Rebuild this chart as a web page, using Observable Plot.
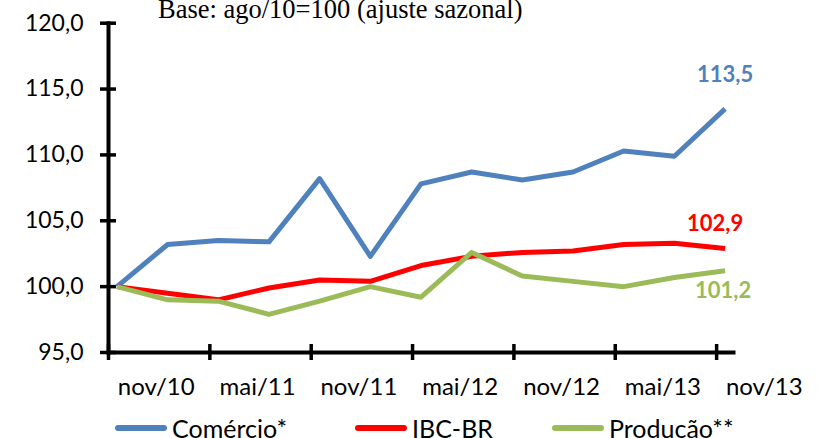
<!DOCTYPE html>
<html>
<head>
<meta charset="utf-8">
<script src="https://cdn.jsdelivr.net/npm/d3@7"></script>
<script src="https://cdn.jsdelivr.net/npm/@observablehq/plot@0.6"></script>
<style>
  html, body { margin: 0; padding: 0; background: #fff; }
  #wrap { position: relative; width: 819px; height: 438px; overflow: hidden; }
  #title { position: absolute; left: 158px; top: -6px; font-family: "Liberation Serif", "Times New Roman", serif; font-size: 26.5px; white-space: nowrap; color: #000; }
  .leg { position: absolute; top: 414px; height: 28px; display: flex; align-items: center; font-family: Lato, sans-serif; font-size: 25px; color: #000; white-space: nowrap; }
  .sw { display: inline-block; width: 52px; height: 5.5px; border-radius: 3px; margin-right: 5px; }
</style>
</head>
<body>
<div id="wrap">
  <div id="title">Base: ago/10=100 (ajuste sazonal)</div>
</div>
<script>
// Quarterly periods (month index counted from nov/10)
const periods = ["nov/10","fev/11","mai/11","ago/11","nov/11","fev/12","mai/12","ago/12","nov/12","fev/13","mai/13","ago/13","nov/13"];
const comercio = [100.0, 103.2, 103.5, 103.4, 108.2, 102.3, 107.8, 108.7, 108.1, 108.7, 110.3, 109.9, 113.5];
const ibcbr    = [100.0, 99.5, 99.0, 99.9, 100.5, 100.4, 101.6, 102.3, 102.6, 102.7, 103.2, 103.3, 102.9];
const producao = [100.0, 99.0, 98.9, 97.9, 98.9, 100.0, 99.2, 102.6, 100.8, 100.4, 100.0, 100.7, 101.2];
const seriesNames = ["Comércio*", "IBC-BR", "Producão**"];
const seriesColors = ["#4F81BD", "#FF0000", "#9BBB59"];
const xTickLabels = ["nov/10","mai/11","nov/11","mai/12","nov/12","mai/13","nov/13"];
const yTicks = [95, 100, 105, 110, 115, 120];

const allSeries = [comercio, ibcbr, producao];
const rows = allSeries.map(vals => vals.map((v, i) => ({m: i * 3, v, p: periods[i]})));
const fmt = d => d.toFixed(1).replace(".", ",");
const monthsPerLabel = 6;
const tickPos = xTickLabels.map((_, k) => k * monthsPerLabel - 0.5);
const labelRows = xTickLabels.map((t, k) => ({m: k * monthsPerLabel + (monthsPerLabel - 1) / 2, t}));
const endOffsets = [{dx: 0, dy: -34}, {dx: -10, dy: -24}, {dx: -2, dy: 20}];

const marks = [
  Plot.frame({anchor: "left", strokeWidth: 4}),
  Plot.frame({anchor: "bottom", strokeWidth: 4}),
  Plot.axisY({ticks: yTicks, tickSize: 16, dx: 8, tickFormat: () => "", strokeWidth: 3.5, label: null}),
  Plot.axisY({ticks: yTicks, tickSize: 0, tickPadding: 25, tickFormat: fmt, fontSize: 23, label: null}),
  Plot.axisX({ticks: tickPos, tickSize: 16, dy: -8, tickFormat: () => "", strokeWidth: 3.5, label: null}),
  Plot.text(labelRows, {x: "m", text: "t", frameAnchor: "bottom", lineAnchor: "bottom", dx: -3, dy: 42, fontSize: 24})
];
rows.forEach((r, s) => {
  marks.push(Plot.line(r, {x: "m", y: "v", stroke: seriesColors[s], strokeWidth: 5, strokeLinejoin: "round", strokeLinecap: "butt"}));
});
rows.forEach((r, s) => {
  const last = r[r.length - 1];
  marks.push(Plot.text([last], {x: "m", y: "v", text: d => fmt(d.v), fill: seriesColors[s], fontWeight: "bold", fontSize: 22, dx: endOffsets[s].dx, dy: endOffsets[s].dy}));
});

const chart = Plot.plot({
  width: 819,
  height: 438,
  marginLeft: 108,
  marginRight: 86,
  marginTop: 22.7,
  marginBottom: 86,
  style: {fontFamily: "Lato, sans-serif", fontSize: "22px", color: "#000", background: "transparent", overflow: "visible"},
  x: {type: "linear", domain: [-0.5, 36.5], axis: null},
  y: {domain: [95, 120], axis: null},
  marks
});
chart.style.position = "absolute";
chart.style.left = "0px";
chart.style.top = "0px";
const wrap = document.getElementById("wrap");
wrap.insertBefore(chart, wrap.firstChild);

// Legend
const legLeft = [115, 355, 552];
seriesNames.forEach((name, s) => {
  const d = document.createElement("div");
  d.className = "leg";
  d.style.left = legLeft[s] + "px";
  const sw = document.createElement("span");
  sw.className = "sw";
  sw.style.background = seriesColors[s];
  d.appendChild(sw);
  d.appendChild(document.createTextNode(name));
  wrap.appendChild(d);
});
</script>
</body>
</html>
